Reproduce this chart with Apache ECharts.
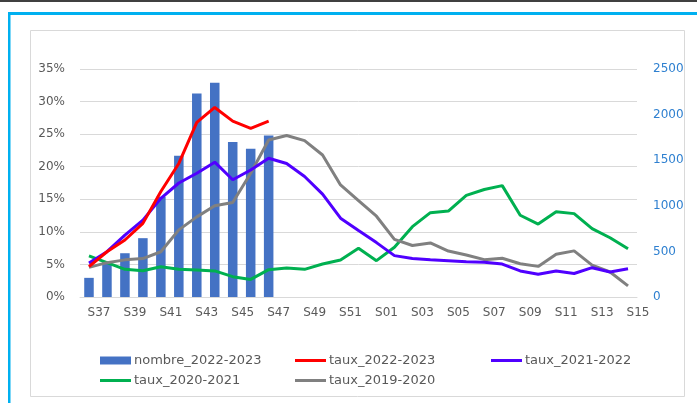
<!DOCTYPE html>
<html>
<head>
<meta charset="utf-8">
<script src="https://cdn.jsdelivr.net/npm/echarts@6/dist/echarts.min.js"></script>
<style>
html,body{margin:0;padding:0;background:#fff;}
#chart{width:697px;height:403px;}
</style>
</head>
<body>
<div id="chart"></div>
<script>
const categories = ['S37','S38','S39','S40','S41','S42','S43','S44','S45','S46','S47','S48','S49','S50','S51','S52',
  'S01','S02','S03','S04','S05','S06','S07','S08','S09','S10','S11','S12','S13','S14','S15'];
const leftTicks = [0, 5, 10, 15, 20, 25, 30, 35];
const rightTicks = [0, 500, 1000, 1500, 2000, 2500];

const nombre_2022_2023 = [210, 390, 480, 645, 1100, 1550, 2230, 2350, 1700, 1625, 1770];
const taux_2022_2023 = [4.65, 6.95, 8.75, 11.3, 16.2, 20.5, 26.8, 29.1, 27.0, 25.9, 27.0];
const taux_2021_2022 = [5.2, 6.95, 9.5, 11.8, 15.15, 17.5, 19.0, 20.7, 18.0, 19.5, 21.3,
  20.5, 18.5, 15.8, 12.1, 10.2, 8.35, 6.35, 5.9, 5.7, 5.55,
  5.4, 5.35, 5.05, 4.0, 3.5, 4.0, 3.6, 4.5, 3.85, 4.35];
const taux_2020_2021 = [6.3, 5.27, 4.25, 4.04, 4.65, 4.25, 4.15, 4.0, 3.12, 2.7, 4.2,
  4.45, 4.25, 5.07, 5.68, 7.47, 5.58, 7.63, 10.8, 12.95, 13.2,
  15.6, 16.5, 17.1, 12.55, 11.2, 13.1, 12.8, 10.5, 9.1, 7.4];
const taux_2019_2020 = [4.55, 5.27, 5.7, 5.9, 6.95, 10.3, 12.3, 14.0, 14.5, 19.0, 24.1,
  24.8, 24.0, 21.8, 17.2, 14.8, 12.4, 8.85, 7.9, 8.3, 7.05,
  6.45, 5.73, 5.94, 5.1, 4.7, 6.55, 7.08, 4.9, 3.84, 1.7];

const FONT = 'DejaVu Sans';
const TXT = '#595959';

const chart = echarts.init(document.getElementById('chart'), null, {renderer: 'canvas'});

function legendItem(name, left, top, h) {
  return {
    data: [{name: name, icon: 'rect'}],
    left: left, top: top,
    itemWidth: 31, itemHeight: h,
    selectedMode: false,
    textStyle: {fontFamily: FONT, fontSize: 13, color: TXT, padding: [0, 0, 0, -2]}
  };
}

chart.setOption({
  animation: false,
  backgroundColor: '#ffffff',
  graphic: [
    {type: 'rect', shape: {x: 0, y: 0, width: 697, height: 2}, style: {fill: '#404040'}, z: -10, silent: true},
    {type: 'rect', shape: {x: 8, y: 12, width: 689, height: 3}, style: {fill: '#00b0f0'}, z: -10, silent: true},
    {type: 'rect', shape: {x: 8, y: 12, width: 2.5, height: 391}, style: {fill: '#00b0f0'}, z: -10, silent: true},
    {type: 'rect', shape: {x: 30.5, y: 30.5, width: 654, height: 366}, style: {fill: 'none', stroke: '#d9d9d9', lineWidth: 1}, z: -10, silent: true}
  ],
  grid: {left: 80, right: 60, top: 69, bottom: 106, containLabel: false},
  legend: [
    legendItem('nombre_2022-2023', 95, 349, 8),
    legendItem('taux_2022-2023', 290, 349, 3),
    legendItem('taux_2021-2022', 486, 349, 3),
    legendItem('taux_2020-2021', 95, 369, 3),
    legendItem('taux_2019-2020', 290, 369, 3)
  ],
  xAxis: {
    type: 'category',
    data: categories,
    boundaryGap: true,
    axisTick: {show: false},
    axisLine: {show: true, lineStyle: {color: '#d9d9d9', width: 1}},
    axisLabel: {
      interval: 1, margin: 10, fontFamily: FONT, fontSize: 12, color: TXT,
      padding: [0, 0, 0, 20]
    }
  },
  yAxis: [
    {
      type: 'value', min: leftTicks[0], max: leftTicks[leftTicks.length - 1], interval: 5,
      axisLine: {show: false}, axisTick: {show: false},
      splitLine: {show: true, lineStyle: {color: '#d9d9d9', width: 1}},
      axisLabel: {formatter: '{value}%', margin: 15, fontFamily: FONT, fontSize: 12, color: TXT}
    },
    {
      type: 'value', min: rightTicks[0], max: rightTicks[rightTicks.length - 1], interval: 500,
      position: 'right',
      axisLine: {show: false}, axisTick: {show: false},
      splitLine: {show: false},
      axisLabel: {formatter: function (v) { return String(v); }, margin: 16, fontFamily: FONT, fontSize: 12, color: '#2f80d0'}
    }
  ],
  series: [
    {
      name: 'nombre_2022-2023', type: 'bar', yAxisIndex: 1,
      data: nombre_2022_2023, barWidth: '53%',
      itemStyle: {color: '#4472c4'}, z: 1
    },
    {
      name: 'taux_2022-2023', type: 'line', yAxisIndex: 0, data: taux_2022_2023,
      symbol: 'none', lineStyle: {color: '#ff0000', width: 3}, itemStyle: {color: '#ff0000'}, z: 5
    },
    {
      name: 'taux_2021-2022', type: 'line', yAxisIndex: 0, data: taux_2021_2022,
      symbol: 'none', lineStyle: {color: '#5000ff', width: 3}, itemStyle: {color: '#5000ff'}, z: 4
    },
    {
      name: 'taux_2020-2021', type: 'line', yAxisIndex: 0, data: taux_2020_2021,
      symbol: 'none', lineStyle: {color: '#00b050', width: 3}, itemStyle: {color: '#00b050'}, z: 3
    },
    {
      name: 'taux_2019-2020', type: 'line', yAxisIndex: 0, data: taux_2019_2020,
      symbol: 'none', lineStyle: {color: '#808080', width: 3}, itemStyle: {color: '#808080'}, z: 3
    }
  ]
});
</script>
</body>
</html>
